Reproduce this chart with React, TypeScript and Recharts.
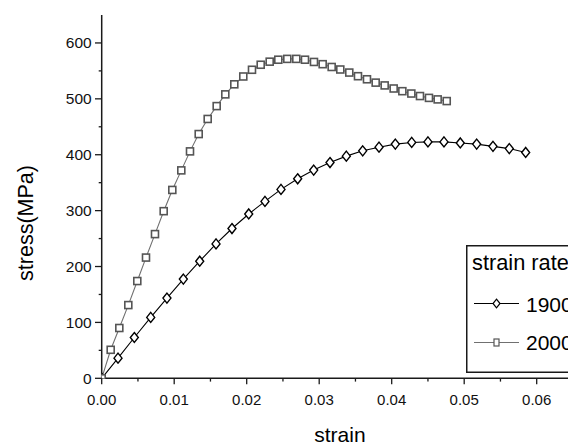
import React from 'react';
import { LineChart, Line, XAxis, YAxis, Legend, Label } from 'recharts';

const FONT = '"Liberation Sans", Arial, Helvetica, sans-serif';

const strain1900 = [0, 0.00225, 0.0045, 0.00676, 0.009, 0.01126, 0.01352, 0.01577, 0.01797, 0.02028, 0.02252, 0.02473, 0.02703, 0.02924, 0.03149, 0.03374, 0.036, 0.03825, 0.0405, 0.04276, 0.045, 0.04721, 0.04946, 0.05172, 0.05397, 0.05622, 0.05848];
const stress1900 = [0, 36, 73, 109, 143.5, 177.5, 209.5, 240.5, 268, 294, 316.5, 338, 357, 372.5, 386, 397.5, 407, 413.5, 419, 422, 423, 423, 421, 419, 415, 411, 404];

const strain2000 = [0, 0.00124, 0.00243, 0.00367, 0.00491, 0.00611, 0.00735, 0.00855, 0.00974, 0.01098, 0.01218, 0.01338, 0.01462, 0.01586, 0.01705, 0.01829, 0.01953, 0.02073, 0.02193, 0.02317, 0.02436, 0.0256, 0.02684, 0.02804, 0.02928, 0.03048, 0.03172, 0.03291, 0.03415, 0.03535, 0.03659, 0.03779, 0.03903, 0.04027, 0.04147, 0.04271, 0.0439, 0.04514, 0.04634, 0.04759];
const stress2000 = [0, 51, 90, 131, 174, 216, 258, 299, 337, 372, 406, 437, 464, 487, 508, 526, 540, 552, 561, 566.5, 570, 571.5, 571.5, 570, 566, 562, 557, 552.5, 547, 540.5, 535, 529, 524, 518.5, 513.7, 509.5, 505, 501.7, 499, 496];

const seriesNames = ['1900', '2000'];
const legendTitle = 'strain rate';
const xTitle = 'strain';
const yTitle = 'stress(MPa)';

const xTicks = [0, 0.005, 0.01, 0.015, 0.02, 0.025, 0.03, 0.035, 0.04, 0.045, 0.05, 0.055, 0.06, 0.065];
const xMajorTicks = [0, 0.01, 0.02, 0.03, 0.04, 0.05, 0.06];
const yTicks = [0, 50, 100, 150, 200, 250, 300, 350, 400, 450, 500, 550, 600];
const yMajorTicks = [0, 100, 200, 300, 400, 500, 600];

const data1900 = strain1900.map((s, i) => ({ strain: s, stress: stress1900[i] }));
const data2000 = strain2000.map((s, i) => ({ strain: s, stress: stress2000[i] }));

const isMajor = (v: number, majors: number[]) => majors.some((m) => Math.abs(m - v) < 1e-9);

const AXIS_COLOR = '#1a1a1a';
const GRAY = '#555555';
const GRAY_LINE = '#707070';

const XTick = (props: any) => {
  const { x, y, payload } = props;
  const v = payload.value;
  const major = isMajor(v, xMajorTicks);
  return (
    <g>
      <line x1={x} y1={y} x2={x} y2={y + (major ? 6 : 3.3)} stroke={AXIS_COLOR} strokeWidth={1.3} />
      {major && (
        <text x={x} y={y + 26.7} textAnchor="middle" fontFamily={FONT} fontSize={15} fill="#111">
          {v.toFixed(2)}
        </text>
      )}
    </g>
  );
};

const YTick = (props: any) => {
  const { x, y, payload } = props;
  const v = payload.value;
  const major = isMajor(v, yMajorTicks);
  return (
    <g>
      <line x1={x - (major ? 6.7 : 3)} y1={y} x2={x} y2={y} stroke={AXIS_COLOR} strokeWidth={1.3} />
      {major && (
        <text x={x - 10} y={y + 5.4} textAnchor="end" fontFamily={FONT} fontSize={15.5} fill="#111">
          {String(v)}
        </text>
      )}
    </g>
  );
};

const DiamondDot = (props: any) => {
  const { cx, cy, index } = props;
  if (cx == null || cy == null) return <g key={`d-${index}`} />;
  const w = 4;
  const h = 5;
  return (
    <polygon
      key={`d-${index}`}
      points={`${cx},${cy - h} ${cx + w},${cy} ${cx},${cy + h} ${cx - w},${cy}`}
      fill="#fff"
      stroke="#000"
      strokeWidth={1.4}
    />
  );
};

const SquareDot = (props: any) => {
  const { cx, cy, index } = props;
  if (cx == null || cy == null) return <g key={`s-${index}`} />;
  const s = 7;
  return (
    <rect
      key={`s-${index}`}
      x={cx - s / 2}
      y={cy - s / 2}
      width={s}
      height={s}
      fill="#fff"
      stroke={GRAY}
      strokeWidth={1.6}
    />
  );
};

const LegendBox = () => (
  <svg width={150} height={130} style={{ display: 'block', overflow: 'visible' }}>
    <rect x={0.75} y={0.75} width={148} height={126.5} fill="#fff" stroke={AXIS_COLOR} strokeWidth={1.5} />
    <text x={6} y={25} fontFamily={FONT} fontSize={21.8} fill="#000">{legendTitle}</text>
    <line x1={8} y1={58.5} x2={53} y2={58.5} stroke="#000" strokeWidth={1.2} />
    <polygon points={`30.5,54.2 34,58.5 30.5,62.8 27,58.5`} fill="#fff" stroke="#000" strokeWidth={1.2} />
    <text x={60} y={66.5} fontFamily={FONT} fontSize={21} fill="#000">{seriesNames[0]}</text>
    <line x1={8} y1={97.5} x2={53} y2={97.5} stroke={GRAY_LINE} strokeWidth={1.2} />
    <rect x={28} y={94} width={5} height={7} fill="#fff" stroke={GRAY} strokeWidth={1.2} />
    <text x={60} y={105} fontFamily={FONT} fontSize={21} fill="#000">{seriesNames[1]}</text>
  </svg>
);

export default function App() {
  return (
    <div style={{ position: 'fixed', left: 0, top: 0, width: 568, height: 443, overflow: 'hidden', background: '#fff' }}>
      <LineChart
        width={600}
        height={443}
        margin={{ top: 15, right: 19.8, bottom: 0, left: 41.7 }}
        style={{ fontFamily: FONT }}
      >
        <XAxis
          type="number"
          dataKey="strain"
          domain={[0, 0.066]}
          ticks={xTicks}
          interval={0}
          allowDataOverflow
          height={64.7}
          tickSize={0}
          tickMargin={0}
          tick={<XTick />}
          axisLine={{ stroke: AXIS_COLOR, strokeWidth: 1.5 }}
        >
          <Label
            content={(p: any) => {
              const vb = p.viewBox || {};
              return (
                <text x={vb.x + vb.width / 2 - 1} y={441.5} textAnchor="middle" fontFamily={FONT} fontSize={21} fill="#000">
                  {xTitle}
                </text>
              );
            }}
          />
        </XAxis>
        <YAxis
          type="number"
          dataKey="stress"
          domain={[0, 650]}
          ticks={yTicks}
          interval={0}
          allowDataOverflow
          width={60}
          tickSize={0}
          tickMargin={0}
          tick={<YTick />}
          axisLine={{ stroke: AXIS_COLOR, strokeWidth: 1.5 }}
        >
          <Label
            content={() => (
              <text
                x={25.5}
                y={223}
                transform="rotate(-90, 25.5, 223)"
                textAnchor="middle"
                dominantBaseline="central"
                fontFamily={FONT}
                fontSize={21.5}
                fill="#000"
              >
                {yTitle}
              </text>
            )}
          />
        </YAxis>
        <Legend
          layout="vertical"
          align="center"
          verticalAlign="middle"
          content={() => <LegendBox />}
          wrapperStyle={{ left: 466, top: 245, width: 150, height: 130 }}
        />
        <Line
          data={data1900}
          dataKey="stress"
          name={seriesNames[0]}
          stroke="#000"
          strokeWidth={1.1}
          dot={DiamondDot}
          activeDot={false}
          isAnimationActive={false}
        />
        <Line
          data={data2000}
          dataKey="stress"
          name={seriesNames[1]}
          stroke={GRAY_LINE}
          strokeWidth={1.1}
          dot={SquareDot}
          activeDot={false}
          isAnimationActive={false}
        />
      </LineChart>
    </div>
  );
}
